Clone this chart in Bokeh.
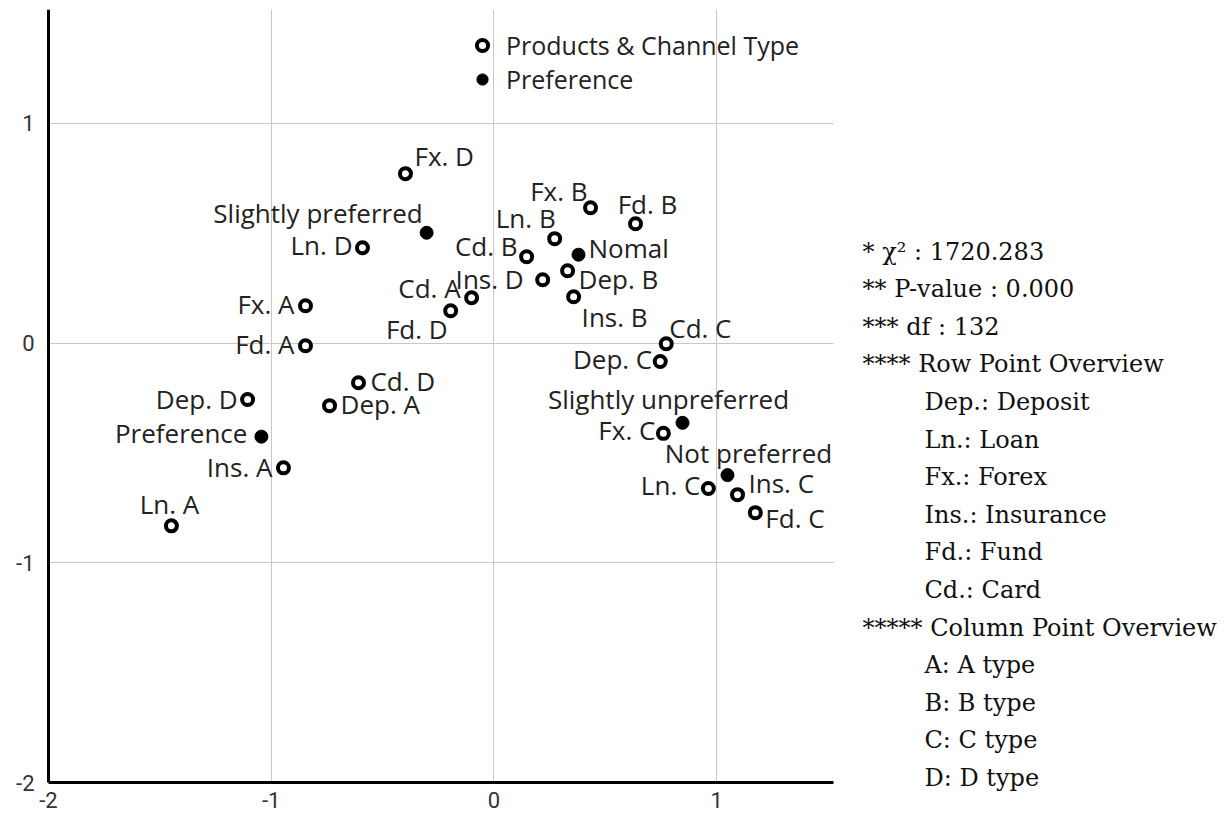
from bokeh.plotting import figure
from bokeh.models import (ColumnDataSource, Range1d, FixedTicker, Legend, LegendItem,
                          Label, BoxAnnotation)
from bokeh.core.properties import value
from bokeh.embed import file_html
from bokeh.resources import INLINE

# ---- data ----
prod_names = ["Fx. D", "Ln. D", "Fx. A", "Fd. A", "Dep. D", "Ins. A", "Ln. A", "Cd. D",
              "Dep. A", "Fd. D", "Cd. A", "Ins. D", "Cd. B", "Ln. B", "Fx. B", "Fd. B",
              "Dep. B", "Ins. B", "Cd. C", "Dep. C", "Fx. C", "Ln. C", "Ins. C", "Fd. C"]
prod_x = [-0.397, -0.590, -0.846, -0.846, -1.106, -0.945, -1.448, -0.608,
          -0.738, -0.194, -0.100, 0.219, 0.147, 0.273, 0.434, 0.636,
          0.331, 0.358, 0.774, 0.747, 0.761, 0.963, 1.094, 1.174]
prod_y = [0.771, 0.434, 0.170, -0.012, -0.257, -0.568, -0.832, -0.181,
          -0.285, 0.147, 0.206, 0.288, 0.393, 0.475, 0.616, 0.543,
          0.329, 0.211, -0.003, -0.084, -0.411, -0.662, -0.690, -0.772]

pref_names = ["Slightly preferred", "Nomal", "Preference", "Slightly unpreferred", "Not preferred"]
pref_x = [-0.302, 0.380, -1.044, 0.847, 1.049]
pref_y = [0.502, 0.402, -0.426, -0.363, -0.601]

x_ticks = [-2, -1, 0, 1]
y_ticks = [-2, -1, 0, 1]
tick_labels = {-2: "-2", -1: "-1", 0: "0", 1: "1"}

legend_labels = ["Products & Channel Type", "Preference"]

note_lines = ["* \u03c7\u00b2 : 1720.283", "** P-value : 0.000", "*** df : 132",
              "**** Row Point Overview", "Dep.: Deposit", "Ln.: Loan", "Fx.: Forex",
              "Ins.: Insurance", "Fd.: Fund", "Cd.: Card", "***** Column Point Overview",
              "A: A type", "B: B type", "C: C type", "D: D type"]
note_indent = [False, False, False, False, True, True, True, True, True, True,
               False, True, True, True, True]

# ---- label placement styles (pixels: dx, dy downward, alignment) ----
label_pos = {
    "Fx. D": (9, -18, "left"), "Ln. D": (-10, -3, "right"), "Fx. A": (-11, -2, "right"),
    "Fd. A": (-11, -2, "right"), "Dep. D": (-10, -1, "right"), "Ins. A": (-11, -1, "right"),
    "Ln. A": (-2, -22, "center"), "Cd. D": (12, -2, "left"), "Dep. A": (11, -2, "left"),
    "Fd. D": (-3, 18, "right"), "Cd. A": (-11, -10, "right"), "Ins. D": (-19, -1, "right"),
    "Cd. B": (-9, -11, "right"), "Ln. B": (1, -21, "right"), "Fx. B": (-3, -17, "right"),
    "Fd. B": (12, -20, "center"), "Dep. B": (11, 8, "left"), "Ins. B": (8, 20, "left"),
    "Cd. C": (3, -16, "left"), "Dep. C": (-8, -3, "right"), "Fx. C": (-8, -3, "right"),
    "Ln. C": (-8, -4, "right"), "Ins. C": (11, -12, "left"), "Fd. C": (10, 5, "left"),
    "Slightly preferred": (-4, -20, "right"), "Nomal": (10, -7, "left"),
    "Preference": (-14, -4, "right"), "Slightly unpreferred": (-14, -24, "center"),
    "Not preferred": (21, -22, "center"),
}

LABEL_FONT = "Open Sans"
LABEL_SIZE = "26px"
TEXT_COLOR = "#222222"

# ---- layout (canvas pixels) ----
W, H = 1224, 815
PLOT_L, PLOT_R, PLOT_T, PLOT_B = 48, 833, 9, 782      # visible plot box
X_LO, X_HI, Y_LO, Y_HI = -2.0, 1.525, -2.0, 1.518     # axis extents
PPU_X = (PLOT_R - PLOT_L) / (X_HI - X_LO)
PPU_Y = (PLOT_B - PLOT_T) / (Y_HI - Y_LO)
X_START = X_LO - PLOT_L / PPU_X                       # frame extends under y labels
X_END = X_LO + (W - PLOT_L) / PPU_X                   # frame extends under note block
Y_START = Y_HI - (H - PLOT_T) / PPU_Y                 # frame extends under x labels


def px_to_x(px):
    return X_LO + (px - PLOT_L) / PPU_X


def py_to_y(py):
    return Y_HI - (py - PLOT_T) / PPU_Y


def make_source(names, xs, ys):
    return ColumnDataSource(dict(
        name=names, x=xs, y=ys,
        dx=[label_pos[n][0] for n in names],
        dy=[label_pos[n][1] for n in names],
        align=[label_pos[n][2] for n in names],
    ))


src_prod = make_source(prod_names, prod_x, prod_y)
src_pref = make_source(pref_names, pref_x, pref_y)

p = figure(width=W, height=H,
           x_range=Range1d(X_START, X_END), y_range=Range1d(Y_START, Y_HI),
           output_backend="svg", toolbar_location=None,
           min_border_left=0, min_border_right=0, min_border_top=PLOT_T, min_border_bottom=0)
p.outline_line_color = None
p.background_fill_color = "white"

p.xaxis.ticker = FixedTicker(ticks=x_ticks)
p.yaxis.ticker = FixedTicker(ticks=y_ticks)
p.xaxis.fixed_location = Y_LO
p.yaxis.fixed_location = X_LO
p.xaxis.bounds = (X_LO, X_HI)
p.yaxis.bounds = (Y_LO, Y_HI)
for ax in (p.xaxis, p.yaxis):
    ax.axis_line_width = 3
    ax.axis_line_color = "black"
    ax.major_tick_line_color = None
    ax.minor_tick_line_color = None
    ax.major_label_text_font = "Roboto"
    ax.major_label_text_font_size = "22px"
    ax.major_label_text_color = "#333333"
    ax.major_label_overrides = tick_labels
p.xaxis.major_label_standoff = 3
p.yaxis.major_label_standoff = 8

p.xgrid.ticker = FixedTicker(ticks=x_ticks)
p.ygrid.ticker = FixedTicker(ticks=y_ticks)
p.grid.grid_line_color = "#c8c8c8"
p.grid.grid_line_width = 1

# hide grid lines outside the plot box (note area, left margin, below the x axis)
for box in (dict(left=X_HI), dict(right=X_LO), dict(top=Y_LO)):
    p.add_layout(BoxAnnotation(fill_color="white", fill_alpha=1,
                               line_color=None, level="underlay", **box))

r_prod = p.scatter("x", "y", source=src_prod, marker="circle", size=11,
                   fill_color="white", line_color="black", line_width=4)
r_pref = p.scatter("x", "y", source=src_pref, marker="circle", size=13,
                   fill_color="black", line_color="black", line_width=1)

for src in (src_prod, src_pref):
    p.text(x="x", y="y", text="name", source=src, x_offset="dx", y_offset="dy",
           text_align="align", text_baseline="middle",
           text_font=value(LABEL_FONT), text_font_size=LABEL_SIZE, text_color=TEXT_COLOR)

# two single-item legends so the rows sit close together without overlapping
for i, (lab, rend) in enumerate(zip(legend_labels, (r_prod, r_pref))):
    centre = 45 + 34 * i
    leg = Legend(items=[LegendItem(label=lab, renderers=[rend])],
                 location=(PLOT_L + 420, H - (centre + 17)), orientation="vertical",
                 background_fill_alpha=0, border_line_alpha=0,
                 padding=0, margin=0, spacing=0,
                 glyph_width=28, glyph_height=34, label_height=34, label_standoff=10,
                 label_text_font=LABEL_FONT, label_text_font_size="25px",
                 label_text_color=TEXT_COLOR, label_text_baseline="middle")
    p.add_layout(leg)

# ---- note block on the right ----
for i, (line, ind) in enumerate(zip(note_lines, note_indent)):
    xpix = 924 if ind else 862
    ypix = 251 + 37.6 * i
    p.add_layout(Label(x=px_to_x(xpix), y=py_to_y(ypix), text=line,
                       text_font="DejaVu Serif", text_font_size="24px",
                       text_color="#111111", text_baseline="middle", text_align="left"))

open("out.html", "w").write(file_html(p, INLINE))
